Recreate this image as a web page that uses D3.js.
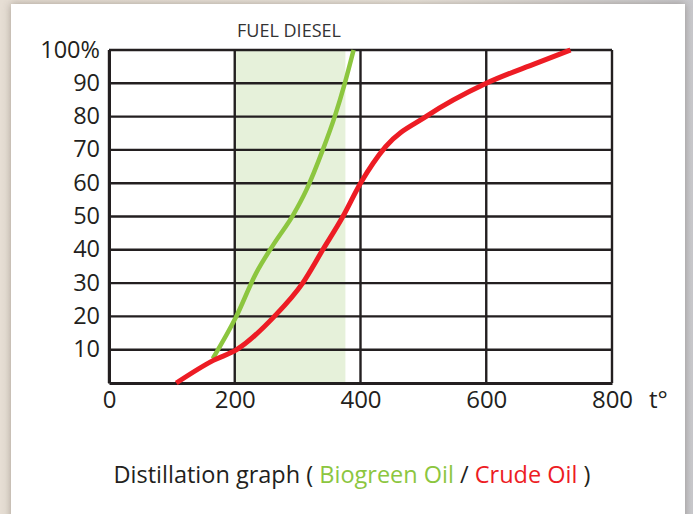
<!DOCTYPE html>
<html>
<head>
<meta charset="utf-8">
<script src="https://cdn.jsdelivr.net/npm/d3@7"></script>
<style>
  html, body { margin: 0; padding: 0; }
  body {
    width: 693px; height: 514px; overflow: hidden; position: relative;
    background: linear-gradient(90deg, #e6ded4 0%, #ece6dd 60%, #c9c9cd 100%);
  }
  .card {
    position: absolute; left: 11px; top: 4px; width: 674px; height: 530px;
    background: #fff;
    box-shadow: 0 0 8px rgba(90, 80, 70, 0.45);
  }
  svg { position: absolute; left: 0; top: 0; }
</style>
</head>
<body>
<div class="card"></div>
<div id="chart"></div>
<script>
// Données
const xTicks = [0, 200, 400, 600, 800];
const yTicks = [10, 20, 30, 40, 50, 60, 70, 80, 90, 100];
const dieselRange = [200, 376];

const bioTemp = [165, 202, 234, 263, 293, 314, 340, 359, 375, 389];
const bioPct  = [7.3, 19.8, 33, 42, 50.5, 58, 70, 80, 90, 100];

const crudeTemp = [107, 166, 203, 263, 308, 340, 372, 400, 440, 504, 600, 679, 734];
const crudePct  = [0, 6.8, 10, 20, 30, 40, 50, 60, 71, 80, 90, 96, 100];

const GREEN = "#8cc63f";
const RED = "#ed1c24";
const INK = "#231f20";
const FONT = "'Open Sans', sans-serif";

const svg = d3.select("#chart")
  .append("svg")
  .attr("width", 693)
  .attr("height", 514);

const x = d3.scaleLinear().domain([0, 800]).range([109, 612]);
const y = d3.scaleLinear().domain([0, 100]).range([383, 50]);

// Zone fuel diesel
svg.append("rect")
  .attr("x", x(dieselRange[0]))
  .attr("y", y(100))
  .attr("width", x(dieselRange[1]) - x(dieselRange[0]))
  .attr("height", y(0) - y(100))
  .attr("fill", "#e6f1da");

svg.append("text")
  .attr("x", 289)
  .attr("y", 37)
  .attr("text-anchor", "middle")
  .attr("fill", "#333")
  .attr("font-size", "18px")
  .attr("font-family", FONT)
  .text("FUEL DIESEL");

// Grille
svg.append("g")
  .selectAll("line")
  .data(yTicks)
  .enter().append("line")
  .attr("x1", x(0)).attr("x2", x(800))
  .attr("y1", d => y(d)).attr("y2", d => y(d))
  .attr("stroke", INK)
  .attr("stroke-width", 2.4);

svg.append("g")
  .selectAll("line")
  .data(xTicks)
  .enter().append("line")
  .attr("x1", d => x(d)).attr("x2", d => x(d))
  .attr("y1", y(0)).attr("y2", y(100))
  .attr("stroke", INK)
  .attr("stroke-width", 2.4);

// Axe X
svg.append("g")
  .attr("transform", `translate(0,${y(0)})`)
  .call(d3.axisBottom(x).tickValues(xTicks).tickSize(0).tickPadding(0))
  .call(ax => ax.select(".domain").attr("stroke", INK).attr("stroke-width", 3))
  .selectAll("text")
  .attr("fill", INK)
  .attr("font-size", "24px")
  .attr("font-family", FONT)
  .attr("y", 25)
  .attr("dy", 0);

svg.append("text")
  .attr("x", 649)
  .attr("y", 408)
  .attr("fill", INK)
  .attr("font-size", "24px")
  .attr("font-family", FONT)
  .text("t°");

// Axe Y
svg.append("g")
  .attr("transform", `translate(${x(0)},0)`)
  .call(d3.axisLeft(y).tickValues(yTicks).tickSize(0).tickPadding(9)
    .tickFormat(d => d === 100 ? "100%" : d))
  .call(ax => ax.select(".domain").attr("stroke", INK).attr("stroke-width", 3))
  .selectAll("text")
  .attr("fill", INK)
  .attr("font-size", "23.5px")
  .attr("font-family", FONT)
  .attr("dy", "0.3em");

// Courbes
const line = d3.line()
  .x(d => x(d[0]))
  .y(d => y(d[1]))
  .curve(d3.curveMonotoneX);

svg.append("path")
  .datum(d3.zip(bioTemp, bioPct))
  .attr("d", line)
  .attr("fill", "none")
  .attr("stroke", GREEN)
  .attr("stroke-width", 4.5);

svg.append("path")
  .datum(d3.zip(crudeTemp, crudePct))
  .attr("d", line)
  .attr("fill", "none")
  .attr("stroke", RED)
  .attr("stroke-width", 5);

// Titre
const title = svg.append("text")
  .attr("x", 352)
  .attr("y", 483)
  .attr("text-anchor", "middle")
  .attr("font-size", "23.5px")
  .attr("font-family", FONT)
  .attr("fill", INK);
title.append("tspan").text("Distillation graph ( ");
title.append("tspan").attr("fill", GREEN).text("Biogreen Oil");
title.append("tspan").text(" / ");
title.append("tspan").attr("fill", RED).text("Crude Oil");
title.append("tspan").text(" )");
</script>
</body>
</html>
